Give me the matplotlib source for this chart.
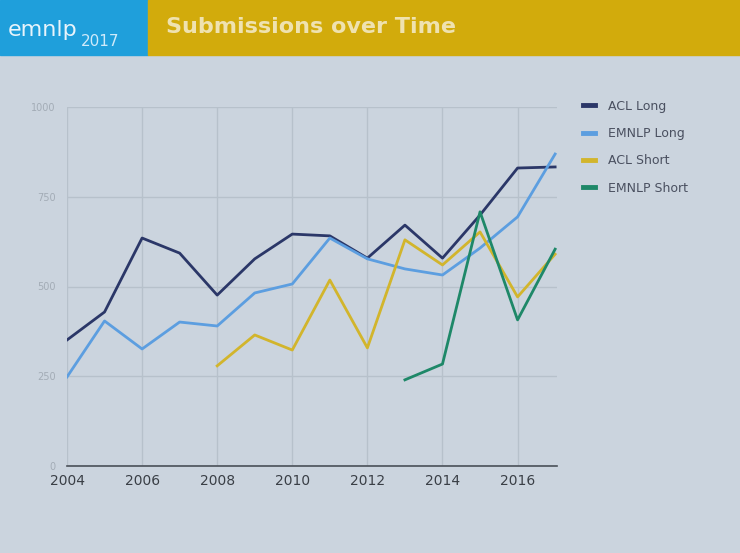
import numpy as np
import matplotlib.pyplot as plt
from matplotlib.patches import Rectangle

years = np.arange(2004, 2018)
acl_long = [351, 429, 635, 593, 476, 577, 646, 641, 579, 671, 579, 699, 830, 833]
emnlp_long = [248, 404, 326, 401, 390, 482, 507, 635, 577, 549, 532, 607, 694, 869]
acl_short_years = np.arange(2008, 2018)
acl_short = [279, 365, 323, 518, 329, 630, 560, 652, 471, 590]
emnlp_short_years = np.arange(2013, 2018)
emnlp_short = [240, 284, 708, 407, 604]

series = [
    ("ACL Long", years, acl_long, "#2b3768"),
    ("EMNLP Long", years, emnlp_long, "#5c9ee0"),
    ("ACL Short", acl_short_years, acl_short, "#d2b52c"),
    ("EMNLP Short", emnlp_short_years, emnlp_short, "#1e8868"),
]
x_ticks = [2004, 2006, 2008, 2010, 2012, 2014, 2016]
y_ticks = [0, 250, 500, 750, 1000]

bg = "#cbd4de"
fig = plt.figure(figsize=(7.4, 5.53), dpi=100, facecolor=bg)

# Bandeau du haut
fig.patches.append(Rectangle((0, 1 - 55 / 553), 148 / 740, 55 / 553,
                             transform=fig.transFigure, color="#1f9fdb", zorder=0))
fig.patches.append(Rectangle((148 / 740, 1 - 55 / 553), 1 - 148 / 740, 55 / 553,
                             transform=fig.transFigure, color="#d2ab0c", zorder=0))
fig.text(8 / 740, 1 - 30 / 553, "emnlp", color="#e8f4fb", fontsize=16,
         va="center", ha="left")
fig.text(81 / 740, 1 - 42 / 553, "2017", color="#cfeafa", fontsize=11,
         va="center", ha="left")
fig.text(166 / 740, 1 - 27 / 553, "Submissions over Time", color="#efe2b0",
         fontsize=16, fontweight="bold", va="center", ha="left")

ax = fig.add_axes([67 / 740, 1 - 466 / 553, 490 / 740, 359 / 553])
ax.set_facecolor(bg)

for label, xs, ys, color in series:
    ax.plot(xs, ys, color=color, lw=2.0, label=label)

ax.set_xlim(2004, 2017.05)
ax.set_ylim(0, 1000)
ax.set_xticks(x_ticks)
ax.set_yticks(y_ticks)
ax.grid(True, color="#b7c1cb", lw=1)
ax.set_axisbelow(True)
for side in ["top", "right", "left"]:
    ax.spines[side].set_visible(False)
ax.spines["bottom"].set_color("#4a5058")
ax.spines["bottom"].set_linewidth(1.2)
ax.tick_params(axis="x", length=0, pad=6, labelsize=10, labelcolor="#3a3f46")
ax.tick_params(axis="y", length=0, pad=8, labelsize=7, labelcolor="#a3acb6")

leg = ax.legend(loc="upper left", bbox_to_anchor=(1.03, 1.052), frameon=False,
                fontsize=9, handlelength=1.0, labelspacing=1.15, handletextpad=1.0)
for text in leg.get_texts():
    text.set_color("#4a5060")
for line in leg.get_lines():
    line.set_linewidth(3.5)

plt.savefig("out.png", dpi=100, facecolor=bg)
